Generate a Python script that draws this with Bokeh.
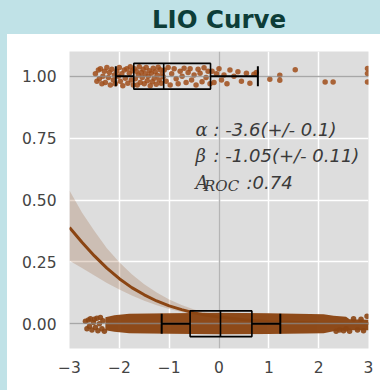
from bokeh.plotting import figure
from bokeh.models import Range1d, FixedTicker, Div, Label
from bokeh.layouts import column, row
from bokeh.embed import file_html
from bokeh.resources import INLINE

# ---------------- data ----------------
x_ticks = [-3, -2, -1, 0, 1, 2, 3]
x_tick_labels = ["\u22123", "\u22122", "\u22121", "0", "1", "2", "3"]
y_ticks = [0.0, 0.25, 0.5, 0.75, 1.0]
y_tick_labels = ["0.00", "0.25", "0.50", "0.75", "1.00"]

title_text = "LIO Curve"
alpha_text = ": -3.6(+/- 0.1)"
beta_text = ": -1.05(+/- 0.11)"
auc_text = ":0.74"

# fitted curve
curve_x = [-3, -2.75, -2.5, -2.25, -2, -1.75, -1.5, -1.25, -1, -0.75, -0.5, -0.25,
           0, 0.5, 1, 1.5, 2, 2.5, 3]
curve_y = [0.389, 0.329, 0.274, 0.225, 0.182, 0.146, 0.117, 0.092, 0.072, 0.057, 0.044,
           0.034, 0.027, 0.016, 0.0095, 0.0056, 0.0033, 0.0019, 0.0011]
curve_hi = [0.538, 0.45, 0.375, 0.305, 0.248, 0.2, 0.16, 0.126, 0.098, 0.076, 0.058,
            0.045, 0.035, 0.021, 0.013, 0.008, 0.005, 0.003, 0.0018]
curve_lo = [0.255, 0.225, 0.195, 0.165, 0.138, 0.114, 0.093, 0.075, 0.06, 0.047, 0.036,
            0.027, 0.021, 0.012, 0.0068, 0.0038, 0.0021, 0.0012, 0.0007]

# outcome = 1 points: x and vertical jitter
top_x = [-2.48, -2.45, -2.42, -2.4, -2.38, -2.35, -2.33, -2.3, -2.28, -2.25, -2.22, -2.2, -2.18, -2.15, -2.12, -2.1,
         -2.08, -2.05, -2.02, -2.0, -1.98, -1.95, -1.93, -1.9, -1.88, -1.85, -1.83, -1.8, -1.78, -1.76, -1.74, -1.72,
         -1.7, -1.68, -1.66, -1.64, -1.62, -1.6, -1.58, -1.56, -1.54, -1.52, -1.5, -1.48, -1.46, -1.44, -1.42,
         -1.4, -1.38, -1.36, -1.34, -1.32, -1.3, -1.28, -1.26, -1.24, -1.22, -1.2, -1.18, -1.16, -1.14, -1.12,
         -1.1, -1.06, -1.02, -0.98, -0.95, -0.9, -0.86, -0.82, -0.78, -0.74, -0.7, -0.66, -0.62, -0.58, -0.55,
         -0.5, -0.46, -0.42, -0.38, -0.34, -0.3, -0.26, -0.22, -0.18,
         -0.14, -0.1, -0.05, 0.0, 0.05, 0.1, 0.16, 0.22, 0.3, 0.38, 0.45, 0.55, 0.62, 0.7, 0.75,
         1.02, 1.22, 1.22, 1.53, 2.13, 2.29, 2.98, 2.98, 2.98]
top_dy = [0.01, -0.02, 0.025, -0.01, 0.03, -0.03, 0.0, 0.02, -0.025, 0.035, -0.005, 0.015, -0.035, 0.028, -0.015, 0.005,
          -0.03, 0.02, 0.0, 0.035, -0.02, 0.01, -0.038, 0.025, -0.008, 0.03, -0.028, 0.012, 0.038, -0.015, 0.022, -0.035,
          0.03, -0.01, 0.02, -0.035, 0.005, 0.038, -0.025, 0.015, -0.005, 0.028, -0.03, 0.01, 0.035, -0.018, 0.0,
          0.022, -0.038, 0.012, -0.022, 0.032, -0.008, 0.018, -0.032, 0.004, 0.036, -0.015, 0.026, -0.028, 0.008, -0.002,
          0.025, -0.02, 0.035, -0.035, 0.01, 0.03, -0.01, -0.03, 0.02, 0.0, 0.032, -0.025, 0.015, 0.03, -0.015,
          0.005, -0.035, 0.028, 0.012, -0.022, 0.034, -0.005, 0.02, -0.03,
          0.02, -0.025, 0.01, 0.03, -0.015, 0.005, -0.03, 0.025, 0.0, 0.018, -0.02, 0.012, -0.028, 0.008, 0.015,
          -0.012, 0.004, -0.016, 0.026, -0.023, -0.023, 0.031, 0.011, -0.023]

# outcome = 0 points: dense band envelope plus sparse edge points
band_x = [-2.28, -2.1, -1.8, -1.0, 0.0, 1.0, 2.1, 2.3, 2.55, 2.62, 3.0]
band_top = [0.026, 0.034, 0.040, 0.042, 0.044, 0.042, 0.038, 0.032, 0.028, 0.018, 0.016]
band_bot = [-0.026, -0.032, -0.038, -0.040, -0.042, -0.041, -0.038, -0.030, -0.026, -0.026, -0.026]
bot_x = [-2.68, -2.65, -2.62, -2.6, -2.58, -2.55, -2.52, -2.5, -2.48, -2.45, -2.43, -2.4, -2.38, -2.35, -2.33, -2.3,
         2.35, 2.42, 2.5, 2.55, 2.62, 2.7, 2.78, 2.85, 2.9, 2.97]
bot_dy = [0.01, -0.02, 0.015, -0.01, 0.02, -0.025, 0.005, 0.018, -0.015, 0.022, -0.028, 0.0, 0.025, -0.02, 0.012, -0.03,
          -0.03, -0.025, -0.028, -0.02, -0.03, 0.02, -0.025, 0.018, -0.028, 0.03]

# box plot statistics per outcome
box_center = [1.0, 0.0]
box_whislo = [-2.07, -1.15]
box_q1 = [-1.71, -0.58]
box_med = [-1.11, 0.03]
box_q3 = [-0.17, 0.66]
box_whishi = [0.78, 1.23]

ref_h = [0.0, 1.0]
ref_v = [0.0]

# ---------------- styling ----------------
BROWN = "#8b4513"
BLUE = "#c0e2e7"
BOX_H = 0.052
CAP_H = 0.04

p = figure(width=373, height=356, x_range=Range1d(-3, 3), y_range=Range1d(-0.1, 1.1),
           output_backend="svg", toolbar_location=None,
           min_border_left=62, min_border_right=12, min_border_top=17, min_border_bottom=42,
           background_fill_color="#dddddd", border_fill_color="white", outline_line_color=None,
           margin=(0, 0, 0, 0))

p.xaxis.ticker = FixedTicker(ticks=x_ticks)
p.yaxis.ticker = FixedTicker(ticks=y_ticks)
p.xaxis.major_label_overrides = dict(zip(x_ticks, x_tick_labels))
p.yaxis.major_label_overrides = dict(zip(y_ticks, y_tick_labels))
for ax in (p.xaxis, p.yaxis):
    ax.axis_line_color = None
    ax.major_tick_line_color = None
    ax.minor_tick_line_color = None
    ax.major_label_text_font = "DejaVu Sans"
    ax.major_label_text_font_size = "15.5px"
    ax.major_label_text_color = "#444444"
p.xaxis.major_label_standoff = 6
p.yaxis.major_label_standoff = 7
p.xgrid.ticker = FixedTicker(ticks=x_ticks)
p.ygrid.ticker = FixedTicker(ticks=y_ticks)
p.grid.grid_line_color = "white"
p.grid.grid_line_width = 1.5

# reference vertical line at x=0
p.vspan(x=ref_v, line_color="#b5b5b5", line_width=1.5)

# confidence band + curve
p.varea(x=curve_x, y1=curve_lo, y2=curve_hi, fill_color=BROWN, fill_alpha=0.2)
p.line(curve_x, curve_y, line_color=BROWN, line_width=3)

# points
p.varea(x=band_x, y1=band_bot, y2=band_top, fill_color=BROWN, fill_alpha=0.97)
p.scatter(bot_x, [0.0 + d for d in bot_dy], size=5.5,
          fill_color=BROWN, fill_alpha=0.9, line_color=None)
p.scatter(top_x, [1.0 + d for d in top_dy], size=5.5,
          fill_color="#a04e1a", fill_alpha=0.85, line_color=None)

# horizontal reference lines at outcomes
p.hspan(y=ref_h, line_color="#8a8a8a", line_width=1.5, line_alpha=0.75)

# box plots
p.quad(left=box_q1, right=box_q3,
       bottom=[c - BOX_H for c in box_center], top=[c + BOX_H for c in box_center],
       fill_color=None, line_color="black", line_width=1.6)
p.segment(x0=box_med, y0=[c - BOX_H for c in box_center], x1=box_med, y1=[c + BOX_H for c in box_center],
          line_color="black", line_width=1.6)
p.segment(x0=box_whislo, y0=box_center, x1=box_q1, y1=box_center, line_color="black", line_width=2)
p.segment(x0=box_q3, y0=box_center, x1=box_whishi, y1=box_center, line_color="black", line_width=2)
p.segment(x0=box_whislo, y0=[c - CAP_H for c in box_center], x1=box_whislo, y1=[c + CAP_H for c in box_center],
          line_color="black", line_width=2)
p.segment(x0=box_whishi, y0=[c - CAP_H for c in box_center], x1=box_whishi, y1=[c + CAP_H for c in box_center],
          line_color="black", line_width=2)

# annotation text
TXT = "#3a3a3a"
def lab(x, y, t, font, size):
    p.add_layout(Label(x=x, y=y, text=t, text_font=font, text_font_size=size,
                       text_font_style="italic", text_color=TXT, text_baseline="alphabetic"))

lab(-0.471, 0.785, "\u03b1", "DejaVu Serif", "18px")
lab(-0.110, 0.785, alpha_text, "DejaVu Sans", "18px")
lab(-0.471, 0.680, "\u03b2", "DejaVu Serif", "18px")
lab(-0.110, 0.680, beta_text, "DejaVu Sans", "18px")
lab(-0.471, 0.571, "A", "DejaVu Serif", "18px")
lab(-0.300, 0.555, "ROC", "DejaVu Serif", "15px")
lab(0.552, 0.571, auc_text, "DejaVu Sans", "18px")

title = Div(text='<div style="font-family:\'DejaVu Sans\';font-weight:bold;font-size:24.5px;color:#0d3d38;'
                 'width:380px;box-sizing:border-box;padding-left:58px;text-align:center;'
                 'line-height:34px;position:relative;top:3px;white-space:nowrap">' + title_text + '</div>',
            width=380, height=34, margin=(0, 0, 0, 0), styles={"background-color": BLUE})
strip = Div(text="", width=7, height=356, margin=(0, 0, 0, 0), styles={"background-color": BLUE})

layout = column(row(strip, p, spacing=0), spacing=0)
layout = column(title, row(strip, p, spacing=0), spacing=0)
open("out.html", "w").write(file_html(layout, INLINE))
